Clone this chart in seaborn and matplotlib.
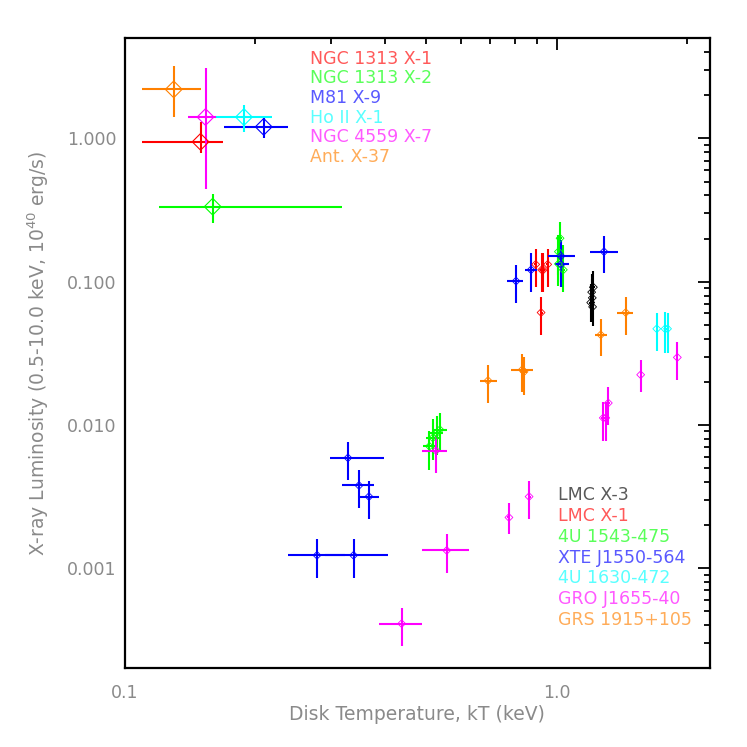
import numpy as np
import pandas as pd
import matplotlib
matplotlib.use("Agg")
import matplotlib.pyplot as plt
import seaborn as sns
from matplotlib.ticker import FixedLocator, FixedFormatter, NullFormatter

# ---------------- data ----------------
# Ultraluminous X-ray sources: value, lower, upper
ulx_names = ["NGC 1313 X-1", "NGC 1313 X-2", "M81 X-9", "Ho II X-1", "NGC 4559 X-7", "Ant. X-37"]
ulx_colors = ["#ff0000", "#00ff00", "#0000ff", "#00ffff", "#ff00ff", "#ff8000"]
ulx_kT = [0.150, 0.160, 0.210, 0.189, 0.154, 0.130]
ulx_kT_lo = [0.110, 0.120, 0.170, 0.163, 0.140, 0.110]
ulx_kT_hi = [0.169, 0.318, 0.239, 0.219, 0.163, 0.150]
ulx_L = [0.947, 0.334, 1.205, 1.41, 1.41, 2.20]
ulx_L_lo = [0.786, 0.256, 1.01, 1.11, 0.443, 1.41]
ulx_L_hi = [1.305, 0.409, 1.38, 1.71, 3.10, 3.21]

# Galactic / LMC black-hole binaries
xrb_names = ["LMC X-3", "LMC X-1", "4U 1543-475", "XTE J1550-564",
             "4U 1630-472", "GRO J1655-40", "GRS 1915+105"]
xrb_colors = ["#000000", "#ff0000", "#00ff00", "#0000ff", "#00ffff", "#ff00ff", "#ff8000"]

lmcx3_kT = [1.206, 1.217, 1.200, 1.210, 1.212]
lmcx3_kT_lo = [1.198, 1.209, 1.192, 1.202, 1.204]
lmcx3_kT_hi = [1.214, 1.225, 1.208, 1.218, 1.220]
lmcx3_L = [0.0845, 0.0915, 0.0715, 0.0771, 0.0667]
lmcx3_L_lo = [0.062, 0.068, 0.052, 0.057, 0.049]
lmcx3_L_hi = [0.113, 0.118, 0.097, 0.104, 0.090]

lmcx1_kT = [0.895, 0.924, 0.932, 0.954, 0.921]
lmcx1_kT_lo = [0.888, 0.917, 0.925, 0.947, 0.914]
lmcx1_kT_hi = [0.902, 0.931, 0.939, 0.961, 0.928]
lmcx1_L = [0.132, 0.121, 0.121, 0.132, 0.0609]
lmcx1_L_lo = [0.092, 0.085, 0.085, 0.092, 0.0426]
lmcx1_L_hi = [0.169, 0.158, 0.158, 0.169, 0.078]

u1543_kT = [1.019, 1.010, 1.037, 1.010, 0.537, 0.528, 0.517, 0.508]
u1543_kT_lo = [1.011, 1.002, 1.029, 1.002, 0.518, 0.509, 0.499, 0.490]
u1543_kT_hi = [1.027, 1.018, 1.045, 1.018, 0.557, 0.547, 0.536, 0.527]
u1543_L = [0.201, 0.162, 0.121, 0.133, 0.00927, 0.00880, 0.00812, 0.00710]
u1543_L_lo = [0.142, 0.112, 0.0853, 0.094, 0.00673, 0.00621, 0.00573, 0.00488]
u1543_L_hi = [0.260, 0.212, 0.180, 0.175, 0.01213, 0.0116, 0.0110, 0.00903]

xte_kT = [0.279, 0.339, 0.329, 0.349, 0.368, 0.806, 0.873, 1.024, 1.024, 1.288]
xte_kT_lo = [0.239, 0.291, 0.299, 0.319, 0.351, 0.767, 0.845, 0.954, 0.992, 1.196]
xte_kT_hi = [0.324, 0.408, 0.399, 0.379, 0.388, 0.838, 0.903, 1.103, 1.071, 1.386]
xte_L = [0.00123, 0.00123, 0.00589, 0.00378, 0.00316, 0.101, 0.121, 0.151, 0.132, 0.162]
xte_L_lo = [0.00086, 0.00086, 0.00411, 0.00262, 0.00221, 0.0708, 0.0853, 0.0924, 0.0997, 0.115]
xte_L_hi = [0.00159, 0.00159, 0.00761, 0.00488, 0.00409, 0.131, 0.158, 0.196, 0.172, 0.209]

u1630_kT = [1.706, 1.783, 1.807]
u1630_kT_lo = [1.696, 1.773, 1.797]
u1630_kT_hi = [1.716, 1.793, 1.817]
u1630_L = [0.0469, 0.0469, 0.0469]
u1630_L_lo = [0.0326, 0.0320, 0.0318]
u1630_L_hi = [0.0603, 0.0610, 0.0605]

gro_kT = [0.526, 0.557, 0.438, 0.776, 0.864, 1.283, 1.300, 1.318, 1.566, 1.904]
gro_kT_lo = [0.488, 0.488, 0.389, 0.770, 0.857, 1.268, 1.285, 1.303, 1.558, 1.895]
gro_kT_hi = [0.557, 0.627, 0.488, 0.782, 0.871, 1.298, 1.315, 1.333, 1.574, 1.913]
gro_L = [0.00662, 0.00133, 0.00041, 0.00226, 0.00316, 0.0112, 0.0112, 0.01423, 0.0224, 0.0296]
gro_L_lo = [0.00463, 0.00093, 0.000287, 0.00172, 0.00222, 0.00777, 0.00777, 0.00994, 0.0171, 0.0207]
gro_L_hi = [0.00842, 0.00172, 0.000531, 0.00287, 0.00409, 0.01446, 0.01446, 0.0184, 0.0285, 0.0379]

grs_kT = [1.446, 1.266, 0.833, 0.841, 0.694]
grs_kT_lo = [1.379, 1.228, 0.785, 0.826, 0.665]
grs_kT_hi = [1.501, 1.307, 0.884, 0.856, 0.728]
grs_L = [0.0609, 0.0426, 0.0243, 0.0235, 0.0204]
grs_L_lo = [0.0426, 0.0301, 0.0169, 0.0163, 0.0142]
grs_L_hi = [0.0787, 0.0551, 0.0314, 0.0300, 0.0263]

xrb_kT = [lmcx3_kT, lmcx1_kT, u1543_kT, xte_kT, u1630_kT, gro_kT, grs_kT]
xrb_kT_lo = [lmcx3_kT_lo, lmcx1_kT_lo, u1543_kT_lo, xte_kT_lo, u1630_kT_lo, gro_kT_lo, grs_kT_lo]
xrb_kT_hi = [lmcx3_kT_hi, lmcx1_kT_hi, u1543_kT_hi, xte_kT_hi, u1630_kT_hi, gro_kT_hi, grs_kT_hi]
xrb_L = [lmcx3_L, lmcx1_L, u1543_L, xte_L, u1630_L, gro_L, grs_L]
xrb_L_lo = [lmcx3_L_lo, lmcx1_L_lo, u1543_L_lo, xte_L_lo, u1630_L_lo, gro_L_lo, grs_L_lo]
xrb_L_hi = [lmcx3_L_hi, lmcx1_L_hi, u1543_L_hi, xte_L_hi, u1630_L_hi, gro_L_hi, grs_L_hi]

x_major = [0.1, 1.0]
x_major_labels = ["0.1", "1.0"]
y_major = [0.001, 0.01, 0.1, 1.0]
y_major_labels = ["0.001", "0.010", "0.100", "1.000"]

# ---------------- tables ----------------
rows = []
for n, c, k, klo, khi, l, llo, lhi in zip(ulx_names, ulx_colors, ulx_kT, ulx_kT_lo, ulx_kT_hi,
                                         ulx_L, ulx_L_lo, ulx_L_hi):
    rows.append(dict(source=n, color=c, group="ULX", kT=k, kT_lo=klo, kT_hi=khi, L=l, L_lo=llo, L_hi=lhi))
for n, c, ks, klos, khis, ls, llos, lhis in zip(xrb_names, xrb_colors, xrb_kT, xrb_kT_lo, xrb_kT_hi,
                                               xrb_L, xrb_L_lo, xrb_L_hi):
    for k, klo, khi, l, llo, lhi in zip(ks, klos, khis, ls, llos, lhis):
        rows.append(dict(source=n, color=c, group="XRB", kT=k, kT_lo=klo, kT_hi=khi, L=l, L_lo=llo, L_hi=lhi))
df = pd.DataFrame(rows)

# ---------------- style ----------------
sns.set_theme(style="white")
plt.rcParams["font.family"] = ["DejaVu Sans"]

W = 747.0
fig = plt.figure(figsize=(7.47, 7.47), dpi=100)
ax = fig.add_axes([124.5 / W, 1 - 668.3 / W, (710 - 124.5) / W, 630.0 / W])
ax.set_xscale("log")
ax.set_yscale("log")

palette = {n: c for n, c in zip(ulx_names, ulx_colors)}
palette_x = {n: c for n, c in zip(xrb_names, xrb_colors)}

def draw_group(sub, pal, ms_area, lw, order):
    for name in order:
        s = sub[sub.source == name]
        col = pal[name]
        ax.errorbar(s.kT, s.L,
                    xerr=[s.kT - s.kT_lo, s.kT_hi - s.kT],
                    yerr=[s.L - s.L_lo, s.L_hi - s.L],
                    fmt="none", ecolor=col, elinewidth=1.5, capsize=0, zorder=2)
    sns.scatterplot(data=sub, x="kT", y="L", hue="source", palette=pal, hue_order=order,
                    marker="D", s=ms_area, legend=False, ax=ax, zorder=3)
    coll = ax.collections[-1]
    fc = coll.get_facecolors()
    coll.set_edgecolors(fc)
    coll.set_facecolors("none")
    coll.set_linewidths(lw)

draw_group(df[df.group == "XRB"], palette_x, 16, 0.6, xrb_names)
draw_group(df[df.group == "ULX"], palette, 72, 0.8, ulx_names)

ax.set_xlim(0.1, 2.266)
ax.set_ylim(2e-4, 5.0)

# ticks
x_minor = [0.2, 0.3, 0.4, 0.5, 0.6, 0.7, 0.8, 0.9, 2.0]
y_minor = [m * d for d in [1e-4, 1e-3, 1e-2, 1e-1, 1.0] for m in range(2, 10) if 2e-4 <= m * d <= 5.0]
ax.xaxis.set_major_locator(FixedLocator(x_major))
ax.xaxis.set_major_formatter(FixedFormatter(x_major_labels))
ax.xaxis.set_minor_locator(FixedLocator(x_minor))
ax.xaxis.set_minor_formatter(NullFormatter())
ax.yaxis.set_major_locator(FixedLocator(y_major))
ax.yaxis.set_major_formatter(FixedFormatter(y_major_labels))
ax.yaxis.set_minor_locator(FixedLocator(y_minor))
ax.yaxis.set_minor_formatter(NullFormatter())

gray = "#8a8a8a"
ax.tick_params(which="both", direction="in", top=True, right=True, color="black",
               width=1.3, labelsize=12.5, labelcolor=gray)
ax.tick_params(which="major", length=8.4)
ax.tick_params(which="minor", length=4.2)
ax.tick_params(axis="x", which="both", pad=11)
ax.tick_params(axis="y", which="both", pad=5.8)
for sp in ax.spines.values():
    sp.set_visible(True)
    sp.set_color("black")
    sp.set_linewidth(1.6)
ax.grid(False)
ax.set_xlabel("")
ax.set_ylabel("")

# axis titles
fig.text(417 / W, 1 - 720 / W, "Disk Temperature, kT (keV)", ha="center", va="baseline",
         fontsize=13.5, color=gray)
fig.text(45 / W, 1 - 353 / W, "X-ray Luminosity (0.5-10.0 keV, 10$^{40}$ erg/s)",
         rotation=90, rotation_mode="anchor", ha="center", va="baseline",
         fontsize=13.5, color=gray)

# source name legends
def tint(c, f=0.35):
    r, g, b = matplotlib.colors.to_rgb(c)
    return (r + (1 - r) * f, g + (1 - g) * f, b + (1 - b) * f)

for i, (n, c) in enumerate(zip(ulx_names, ulx_colors)):
    fig.text(309.5 / W, 1 - (63.5 + 19.7 * i) / W, n, ha="left", va="baseline",
             fontsize=12.5, color=tint(c))
for i, (n, c) in enumerate(zip(xrb_names, xrb_colors)):
    fig.text(558.5 / W, 1 - (500.3 + 20.75 * i) / W, n, ha="left", va="baseline",
             fontsize=12.5, color=tint(c))

fig.savefig("out.png", dpi=100)
